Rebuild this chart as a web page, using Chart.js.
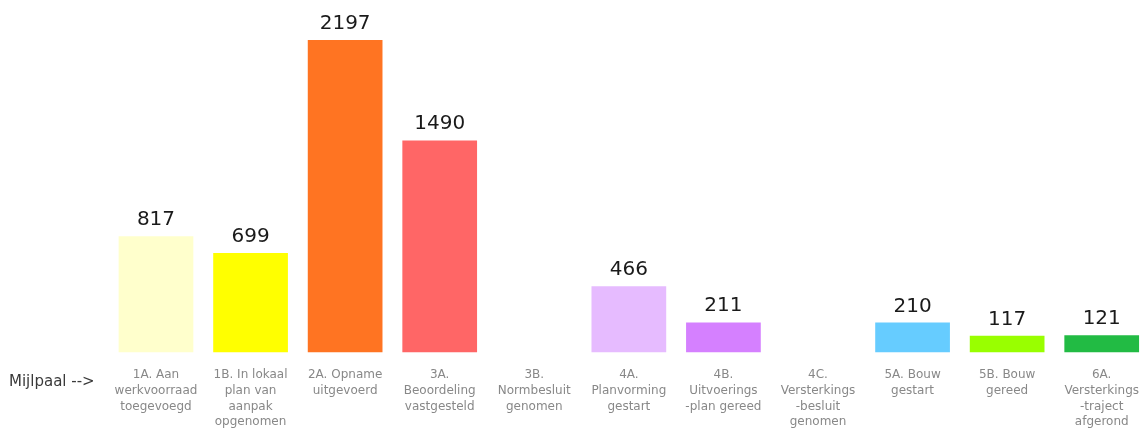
<!DOCTYPE html>
<html>
<head>
<meta charset="utf-8">
<script src="https://cdn.jsdelivr.net/npm/chart.js@4/dist/chart.umd.min.js"></script>
<style>
  html, body { margin: 0; padding: 0; background: #ffffff; overflow: hidden; }
  #wrap { width: 1149px; height: 432px; position: relative; }
</style>
</head>
<body>
<div id="wrap"><canvas id="c"></canvas></div>
<script>
const categories = [
  ["1A. Aan", "werkvoorraad", "toegevoegd"],
  ["1B. In lokaal", "plan van", "aanpak", "opgenomen"],
  ["2A. Opname", "uitgevoerd"],
  ["3A.", "Beoordeling", "vastgesteld"],
  ["3B.", "Normbesluit", "genomen"],
  ["4A.", "Planvorming", "gestart"],
  ["4B.", "Uitvoerings", "-plan gereed"],
  ["4C.", "Versterkings", "-besluit", "genomen"],
  ["5A. Bouw", "gestart"],
  ["5B. Bouw", "gereed"],
  ["6A.", "Versterkings", "-traject", "afgerond"]
];
const values = [817, 699, 2197, 1490, 0, 466, 211, 0, 210, 117, 121];
const barColors = ["#FFFFCC", "#FFFF00", "#FF7422", "#FF6666", "#FFFFFF", "#E6BBFF", "#D580FF", "#FFFFFF", "#66CCFF", "#99FF00", "#22BB44"];
const axisLead = "Mijlpaal -->";

const valueLabels = {
  id: "valueLabels",
  afterDatasetsDraw(chart) {
    const ctx = chart.ctx;
    const meta = chart.getDatasetMeta(0);
    ctx.save();
    ctx.font = "20px 'DejaVu Sans'";
    ctx.fillStyle = "#1a1a1a";
    ctx.textAlign = "center";
    ctx.textBaseline = "alphabetic";
    meta.data.forEach((bar, i) => {
      const v = values[i];
      if (!v) return;
      ctx.fillText(String(v), bar.x, bar.y - 11);
    });
    ctx.font = "15px 'DejaVu Sans'";
    ctx.fillStyle = "#3a3a3a";
    ctx.textAlign = "left";
    ctx.textBaseline = "middle";
    ctx.fillText(axisLead, 9, 382);
    ctx.restore();
  }
};

new Chart(document.getElementById("c"), {
  type: "bar",
  data: {
    labels: categories,
    datasets: [{
      data: values,
      backgroundColor: barColors,
      borderWidth: 0,
      barPercentage: 0.79,
      categoryPercentage: 1.0
    }]
  },
  options: {
    responsive: true,
    maintainAspectRatio: false,
    animation: false,
    layout: { padding: { left: 108.7, right: 0, top: 11, bottom: 0 } },
    plugins: { legend: { display: false }, tooltip: { enabled: false } },
    scales: {
      x: {
        grid: { display: false, drawTicks: true, tickLength: 15 },
        border: { display: false },
        ticks: {
          color: "#888888",
          font: { family: "'DejaVu Sans'", size: 12, lineHeight: 1.3 },
          padding: 0,
          maxRotation: 0,
          autoSkip: false
        },
        afterFit(scale) { scale.height = 79.5; }
      },
      y: {
        display: false,
        min: 0,
        max: 2400
      }
    }
  },
  plugins: [valueLabels]
});
</script>
</body>
</html>
